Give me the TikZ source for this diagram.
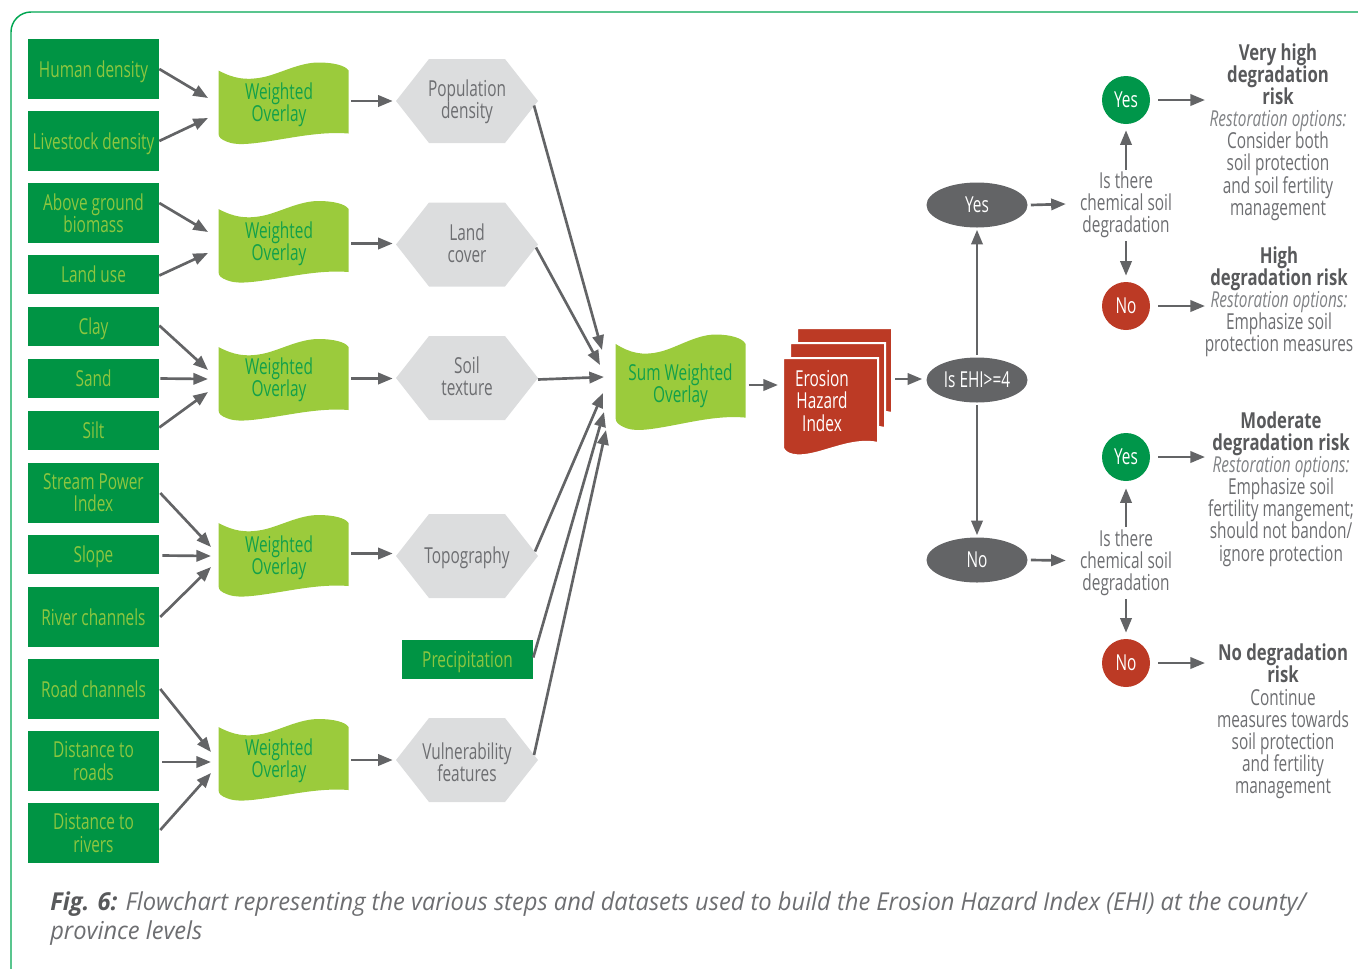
\documentclass[tikz,border=0pt]{standalone}
\usepackage{fontspec}
\setmainfont{Open Sans}[FakeStretch=0.7]
\newfontfamily\hdfont{Open Sans}[FakeStretch=0.76]
\newfontfamily\capfont{Open Sans}[FakeStretch=0.96]
\usetikzlibrary{shapes.geometric,arrows.meta,calc}

\definecolor{dkgreen}{HTML}{009444}
\definecolor{ltgreen}{HTML}{8DC63F}
\definecolor{wavefill}{HTML}{9BCB3C}
\definecolor{wavetext}{HTML}{12A04A}
\definecolor{hexfill}{HTML}{DCDDDE}
\definecolor{hextext}{HTML}{6D6E71}
\definecolor{arrowgray}{HTML}{636466}
\definecolor{ehired}{HTML}{BC3A25}
\definecolor{yesgreen}{HTML}{00964A}
\definecolor{framegreen}{HTML}{00A651}
\definecolor{titlegray}{HTML}{58595B}
\definecolor{bodygray}{HTML}{6D6E71}
\definecolor{optgray}{HTML}{808285}

\newcommand\fs{\fontsize{16.5pt}{16.6pt}\selectfont\lineskiplimit=-10pt\relax}
\newcommand\hd{\hdfont\bfseries\color{titlegray}}
\newcommand\opt{\normalfont\itshape\color{optgray}}
\newcommand\bodyf{\normalfont\color{bodygray}}

\begin{document}
\begin{tikzpicture}[x=0.75pt,y=-0.75pt,
  every node/.style={font=\fs, inner sep=0pt, align=center},
  arr/.style={draw=arrowgray, line width=2pt, -{Triangle[length=11pt,width=8.5pt]}},
  inbox/.style={fill=dkgreen, text=ltgreen, minimum width=98.25pt},
  tall/.style={minimum height=45pt},
  short/.style={minimum height=29.25pt},
  oneline/.style={text depth=0pt},
  wavelbl/.style={text=wavetext, minimum width=98.25pt},
  hexlbl/.style={text=hextext, minimum width=106.5pt, minimum height=63pt},
  oval/.style={ellipse, fill=arrowgray, text=white, minimum width=75.75pt, minimum height=33.75pt},
  yesdot/.style={circle, fill=yesgreen, text=white, minimum size=36pt},
  nodot/.style={circle, fill=ehired, text=white, minimum size=36pt},
  question/.style={text=bodygray},
  outcome/.style={text=bodygray},
  pics/wave/.style={code={
    \fill[wavefill] (-65,-33) .. controls (-50,-25) and (-38,-23) .. (-22,-26)
      .. controls (-5,-29) and (15,-41) .. (35,-41)
      .. controls (50,-41) and (62,-38) .. (65,-33) -- (65,30)
      .. controls (40,28) and (15,33) .. (-10,37)
      .. controls (-35,41) and (-48,42) .. (-57,38)
      .. controls (-62,36) and (-65,34) .. (-65,30) -- cycle;}},
  pics/hexa/.style={code={
    \fill[hexfill] (-71,0) -- (-38,-42) -- (38,-42) -- (71,0) -- (38,42) -- (-38,42) -- cycle;}},
  pics/docpage/.style={code={
    \filldraw[fill=ehired, draw=white, line width=1.5pt] (0,0) -- (95,0) -- (95,85)
      .. controls (72,80) and (48,92) .. (28,96)
      .. controls (14,99) and (3,97) .. (0,90) -- cycle;}}
]
\useasboundingbox (0,0) rectangle (1358,968);

% outer frame, running off the right and bottom edges
\begin{scope}
  \clip (0,0) rectangle (1358,968);
  \draw[framegreen, line width=1.1pt, rounded corners=15pt] (11,12) rectangle (1400,1010);
\end{scope}

% input data layers
\node[inbox,tall,oneline]  (h1)  at (93.5,69)    {Human density};
\node[inbox,tall,oneline]  (h2)  at (93.5,141)   {Livestock density};
\node[inbox,tall]          (h3)  at (93.5,213)   {Above ground\\biomass};
\node[inbox,short,oneline] (h4)  at (93.5,274.5) {Land use};
\node[inbox,short,oneline] (h5)  at (93.5,326.5) {Clay};
\node[inbox,short,oneline] (h6)  at (93.5,378.5) {Sand};
\node[inbox,short,oneline] (h7)  at (93.5,430.5) {Silt};
\node[inbox,tall]          (h8)  at (93.5,493)   {Stream Power\\Index};
\node[inbox,short,oneline] (h9)  at (93.5,554.5) {Slope};
\node[inbox,tall,oneline]  (h10) at (93.5,617)   {River channels};
\node[inbox,tall,oneline]  (h11) at (93.5,689)   {Road channels};
\node[inbox,tall]          (h12) at (93.5,761)   {Distance to\\roads};
\node[inbox,tall]          (h13) at (93.5,833)   {Distance to\\rivers};
\node[inbox,short,oneline] (pr)  at (467.5,659.5) {Precipitation};

% weighted overlays
\foreach \y in {103.5,242,380,556,760} {\pic at (283.5,\y) {wave};}
\node[wavelbl] (w1) at (279,105) {Weighted\\Overlay};
\node[wavelbl] (w2) at (279,244) {Weighted\\Overlay};
\node[wavelbl] (w3) at (279,380) {Weighted\\Overlay};
\node[wavelbl] (w4) at (279,558) {Weighted\\Overlay};
\node[wavelbl] (w5) at (279,761) {Weighted\\Overlay};

% intermediate factors
\foreach \y in {101,244.5,378,556,760} {\pic at (467,\y) {hexa};}
\node[hexlbl] (p1) at (467,101.5) {Population\\density};
\node[hexlbl] (p2) at (467,243.5) {Land\\cover};
\node[hexlbl] (p3) at (467,376.5) {Soil\\texture};
\node[hexlbl] (p4) at (467,557.5) {Topography};
\node[hexlbl] (p5) at (467,762)   {Vulnerability\\features};

% sum of overlays
\pic[yscale=1.17] at (680.5,382.5) {wave};
\node[wavelbl] (s) at (680.5,386) {Sum Weighted\\Overlay};

% erosion hazard index (stack of pages)
\pic at (797,328) {docpage};
\pic at (790,343) {docpage};
\pic at (783,358) {docpage};
\node[text=white, minimum width=71.25pt] (e) at (822,401) {Erosion\\Hazard\\Index};

% decision on EHI
\node[oval] (isq) at (977,380) {Is EHI>=4};
\node[oval] (ye)  at (977,205) {Yes};
\node[oval] (ne)  at (977,560) {No};

\node[question] (q1) at (1126,205) {Is there\\chemical soil\\degradation};
\node[question] (q2) at (1126,562.5) {Is there\\chemical soil\\degradation};

\node[yesdot] (y1) at (1126,100) {Yes};
\node[nodot]  (n1) at (1126,306) {No};
\node[yesdot] (y2) at (1126,457) {Yes};
\node[nodot]  (n2) at (1126,663) {No};

% risk classes
\node[outcome] (o1) at (1278,132) {\hd Very high\\\hd degradation\\\hd risk\\\opt Restoration options:\\\bodyf Consider both\\\bodyf soil protection\\\bodyf and soil fertility\\\bodyf management};
\node[outcome] (o2) at (1279,302) {\hd High\\\hd degradation risk\\\opt Restoration options:\\\bodyf Emphasize soil\\\bodyf protection measures};
\node[outcome] (o3) at (1281,489) {\hd Moderate\\\hd degradation risk\\\opt Restoration options:\\\bodyf Emphasize soil\\\bodyf fertility mangement;\\\bodyf should not bandon/\\\bodyf ignore protection};
\node[outcome] (o4) at (1283,721.5) {\hd No degradation\\\hd risk\\\bodyf Continue\\\bodyf measures towards\\\bodyf soil protection\\\bodyf and fertility\\\bodyf management};

\coordinate (a1) at (1205,100);
\coordinate (a2) at (1205,306);
\coordinate (a3) at (1205,457);
\coordinate (a4) at (1205,663);

% connectors: inputs to overlays
\draw[arr] (h1.east) -- ($(w1)+(-71,-7)$);
\draw[arr] (h2.east) -- ($(w1)+(-71,13)$);
\draw[arr] ($(h3.east)+(0,-10)$) -- ($(w2)+(-71,-12)$);
\draw[arr] ($(h4.east)+(0,1)$) -- ($(w2)+(-71,9)$);
\draw[arr] ($(h5.east)+(0,-1)$) -- ($(w3)+(-71,-10)$);
\draw[arr] ($(h6.east)+(1,0)$) -- ($(w3)+(-71,-1)$);
\draw[arr] ($(h7.east)+(0,-3)$) -- ($(w3)+(-71,12)$);
\draw[arr] ($(h8.east)+(1,0)$) -- ($(w4)+(-68,-11)$);
\draw[arr] ($(h9.east)+(3,1)$) -- ($(w4)+(-68,-2)$);
\draw[arr] ($(h10.east)+(1,0)$) -- ($(w4)+(-68,9)$);
\draw[arr] ($(h11.east)+(1,0)$) -- ($(w5)+(-68,-9)$);
\draw[arr] ($(h12.east)+(3,1)$) -- ($(w5)+(-68,1)$);
\draw[arr] ($(h13.east)+(1,-3)$) -- ($(w5)+(-68,12)$);

% overlays to factors
\draw[arr] ($(w1.east |- p1.west)+(6.5,-0.5)$) -- ($(p1.west)+(-3,-0.5)$);
\draw[arr] ($(w2.east |- p2.west)+(6.5,0)$) -- ($(p2.west)+(-3,0)$);
\draw[arr] ($(w3.east |- p3.west)+(6.5,2)$) -- ($(p3.west)+(-3,2)$);
\draw[arr] ($(w4.east |- p4.west)+(6.5,-4)$) -- ($(p4.west)+(-3,-4)$);
\draw[arr] ($(w5.east |- p5.west)+(6.5,-2)$) -- ($(p5.west)+(-3,-2)$);

% factors to sum
\draw[arr] ($(p1)+(67,4)$) -- ($(s)+(-78.5,-36)$);
\draw[arr] ($(p2)+(69,4)$) -- ($(s)+(-80.5,-21)$);
\draw[arr] ($(p3)+(71,3)$) -- ($(s)+(-76.5,-9)$);
\draw[arr] ($(p4)+(68,-6)$) -- ($(s)+(-77.5,7)$);
\draw[arr] ($(pr.east)+(0,-2)$) -- ($(s)+(-76.5,26)$);
\draw[arr] ($(p5)+(67,-7)$) -- ($(s)+(-74.5,44)$);

% sum to index to decision
\draw[arr] ($(s)+(68,-1)$) -- ($(e)+(-44,-16)$);
\draw[arr] ($(e)+(73,-22)$) -- ($(isq.west)+(-4,-1)$);
\draw[arr] ($(isq.north)+(0,-2)$) -- ($(ye.south)+(0,2)$);
\draw[arr] ($(isq.south)+(0,2)$) -- ($(ne.north)+(0,-2)$);
\draw[arr] ($(ye.east)+(3,0)$) -- ($(q1.west)+(-14,-1)$);
\draw[arr] ($(ne.east)+(3,0)$) -- ($(q2.west)+(-14,-2)$);

% chemical degradation branches
\draw[arr] ($(q1.north)+(0,-2)$) -- ($(y1.south)+(0,6)$);
\draw[arr] ($(q1.south)+(0,3)$) -- ($(n1.north)+(0,-6)$);
\draw[arr] ($(q2.north)+(0,-2)$) -- ($(y2.south)+(0,7)$);
\draw[arr] ($(q2.south)+(0,3)$) -- ($(n2.north)+(0,-6)$);
\draw[arr] ($(y1.east)+(8,0)$) -- (a1);
\draw[arr] ($(n1.east)+(8,0)$) -- (a2);
\draw[arr] ($(y2.east)+(8,0)$) -- (a3);
\draw[arr] ($(n2.east)+(8,0)$) -- (a4);

% caption
\node[anchor=north west, align=left, text=bodygray,
      font=\capfont\itshape\fontsize{18.5pt}{21.75pt}\selectfont] (cap) at (50,891)
  {{\color{titlegray}\bfseries Fig. 6:} Flowchart representing the various steps and datasets used to build the Erosion Hazard Index (EHI) at the county/\\province levels};
\end{tikzpicture}
\end{document}
